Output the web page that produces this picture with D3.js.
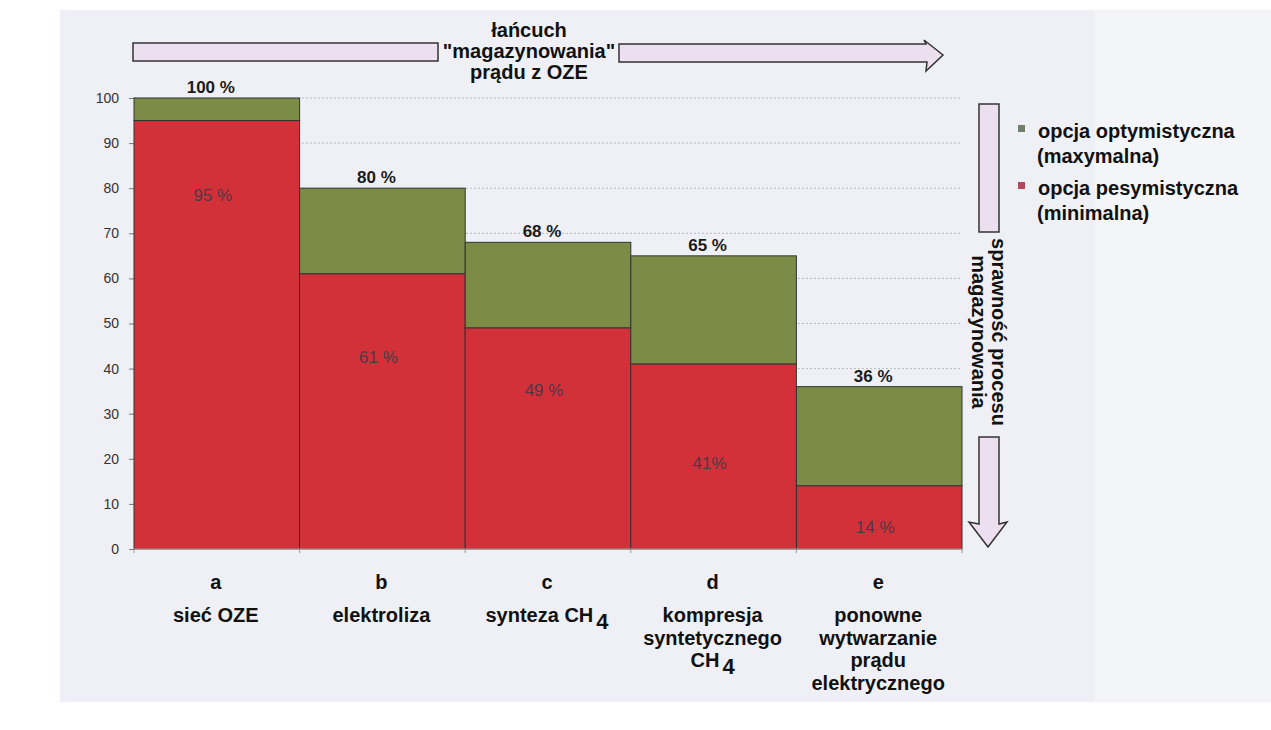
<!DOCTYPE html>
<html><head><meta charset="utf-8">
<script src="https://cdn.jsdelivr.net/npm/d3@7"></script>
<style>
html,body{margin:0;padding:0;background:#fff;}
svg{display:block;font-family:"Liberation Sans",Arial,sans-serif;}
</style></head>
<body>
<svg id="chart" width="1271" height="730"></svg>
<script>
// ---- data ----
const letters = ["a", "b", "c", "d", "e"];
const categoryLines = [
  ["sieć OZE"],
  ["elektroliza"],
  ["synteza CH_4"],
  ["kompresja", "syntetycznego", "CH_4"],
  ["ponowne", "wytwarzanie", "prądu", "elektrycznego"]
];
const optimistic = [100, 80, 68, 65, 36];
const pessimistic = [95, 61, 49, 41, 14];
const optimisticLabels = ["100 %", "80 %", "68 %", "65 %", "36 %"];
const pessimisticLabels = ["95 %", "61 %", "49 %", "41%", "14 %"];
const yTicks = [0, 10, 20, 30, 40, 50, 60, 70, 80, 90, 100];
const legendItems = [["opcja optymistyczna", "(maxymalna)"], ["opcja pesymistyczna", "(minimalna)"]];
const topTitle = ["łańcuch", "\"magazynowania\"", "prądu z OZE"];
const sideTitle = ["sprawność procesu", "magazynowania"];

// ---- layout constants (not data) ----
const innerLabelAt = [78.5, 42.5, 35.3, 19, 4.8];
const RED = "#d3313a", GREEN = "#7c8c47";

const svg = d3.select("#chart");
// background
svg.append("rect").attr("x",0).attr("y",0).attr("width",1271).attr("height",730).attr("fill","#ffffff");
svg.append("rect").attr("x",60).attr("y",10).attr("width",1035).attr("height",692).attr("fill","#eef0f6");
svg.append("rect").attr("x",1095).attr("y",10).attr("width",176).attr("height",692).attr("fill","#f4f5f9");

const x = d3.scaleBand().domain(letters).range([134, 962]).padding(0);
const y = d3.scaleLinear().domain([0, 100]).range([549, 98]);

// gridlines
svg.append("g").selectAll("line").data(yTicks.filter(t => t > 0)).join("line")
  .attr("x1", 134).attr("x2", 962)
  .attr("y1", d => y(d)).attr("y2", d => y(d))
  .attr("stroke", "#a9abb3").attr("stroke-width", 0.8).attr("stroke-dasharray", "2,2");

// y axis
const yAxis = d3.axisLeft(y).tickValues(yTicks).tickSize(5).tickPadding(10);
const ga = svg.append("g").attr("transform", "translate(134,0)").call(yAxis);
ga.select(".domain").attr("stroke", "#555");
ga.selectAll(".tick line").attr("stroke", "#777");
ga.selectAll(".tick text").attr("font-size", 14).attr("fill", "#333").attr("font-family", "Liberation Sans, Arial, sans-serif");

// bars
const bars = svg.append("g");
letters.forEach((l, i) => {
  bars.append("rect").attr("x", x(l)).attr("width", x.bandwidth())
    .attr("y", y(optimistic[i])).attr("height", y(pessimistic[i]) - y(optimistic[i]))
    .attr("fill", GREEN).attr("stroke", "#333").attr("stroke-width", 1);
  bars.append("rect").attr("x", x(l)).attr("width", x.bandwidth())
    .attr("y", y(pessimistic[i])).attr("height", y(0) - y(pessimistic[i]))
    .attr("fill", RED).attr("stroke", "#333").attr("stroke-width", 1);
});
// baseline
svg.append("line").attr("x1",134).attr("x2",962).attr("y1",y(0)).attr("y2",y(0)).attr("stroke","#c9a0a0").attr("stroke-width",1);
svg.append("g").selectAll("line").data(letters.concat(["end"])).join("line")
  .attr("x1", d => d === "end" ? 962 : x(d)).attr("x2", d => d === "end" ? 962 : x(d))
  .attr("y1", y(0)).attr("y2", y(0) + 4).attr("stroke", "#999");

// top labels
svg.append("g").selectAll("text").data(letters).join("text")
  .attr("x", d => x(d) + x.bandwidth() / 2 - 6)
  .attr("y", (d, i) => y(optimistic[i]) - 5)
  .attr("text-anchor", "middle").attr("font-size", 17).attr("font-weight", "bold").attr("fill", "#1a1a1a")
  .text((d, i) => optimisticLabels[i]);

// inner labels
svg.append("g").selectAll("text").data(letters).join("text")
  .attr("x", d => x(d) + x.bandwidth() / 2 - 4)
  .attr("y", (d, i) => y(innerLabelAt[i]) + 6)
  .attr("text-anchor", "middle").attr("font-size", 17).attr("fill", "#4b3a45")
  .text((d, i) => pessimisticLabels[i]);

// x labels
const xl = svg.append("g");
letters.forEach((l, i) => {
  const cx = x(l) + x.bandwidth() / 2 - 1;
  xl.append("text").attr("x", cx).attr("y", 589).attr("text-anchor", "middle")
    .attr("font-size", 20).attr("font-weight", "bold").attr("fill", "#111").text(l);
  categoryLines[i].forEach((line, j) => {
    const t = xl.append("text").attr("x", cx).attr("y", 622 + j * 22.5).attr("text-anchor", "middle")
      .attr("font-size", 20).attr("font-weight", "bold").attr("fill", "#111");
    const parts = line.split("_");
    t.append("tspan").text(parts[0]);
    if (parts.length > 1) {
      t.append("tspan").attr("dx", 3).attr("dy", 7).attr("font-size", 22).text(parts[1]);
    }
  });
});

// top arrow
const arrowFill = "#ecdff0", arrowStroke = "#333";
svg.append("rect").attr("x", 133).attr("y", 43).attr("width", 305).attr("height", 18)
  .attr("fill", arrowFill).attr("stroke", arrowStroke).attr("stroke-width", 1.5);
svg.append("path")
  .attr("d", "M619,44 L926,44 L924,40 L943,55 L926,71 L927,62 L619,62 Z")
  .attr("fill", arrowFill).attr("stroke", arrowStroke).attr("stroke-width", 1.5);
svg.append("g").selectAll("text").data(topTitle).join("text")
  .attr("x", 529).attr("y", (d, i) => 37 + i * 21)
  .attr("text-anchor", "middle").attr("font-size", 20).attr("font-weight", "bold").attr("fill", "#111")
  .text(d => d);

// side arrow
svg.append("rect").attr("x", 979).attr("y", 104).attr("width", 20).attr("height", 128)
  .attr("fill", arrowFill).attr("stroke", arrowStroke).attr("stroke-width", 1.5);
svg.append("path")
  .attr("d", "M979,437 L999,437 L999,524 L1007,522 L988,547 L969,522 L979,524 Z")
  .attr("fill", arrowFill).attr("stroke", arrowStroke).attr("stroke-width", 1.5);
svg.append("g").selectAll("text").data(sideTitle).join("text")
  .attr("transform", (d, i) => `translate(${992 - i * 20},332) rotate(90)`)
  .attr("text-anchor", "middle").attr("font-size", 20).attr("font-weight", "bold").attr("fill", "#111")
  .text(d => d);

// legend
const lg = svg.append("g");
const legendColors = ["#6f7f6c", "#b0485e"];
legendItems.forEach((item, i) => {
  const y0 = 138 + i * 57;
  lg.append("rect").attr("x", 1018).attr("y", y0 - 13).attr("width", 7).attr("height", 7).attr("fill", legendColors[i]);
  item.forEach((line, j) => {
    lg.append("text").attr("x", j === 0 ? 1038 : 1037).attr("y", y0 + j * 25)
      .attr("font-size", 20).attr("font-weight", "bold").attr("fill", "#111").text(line);
  });
});
</script>
</body></html>
